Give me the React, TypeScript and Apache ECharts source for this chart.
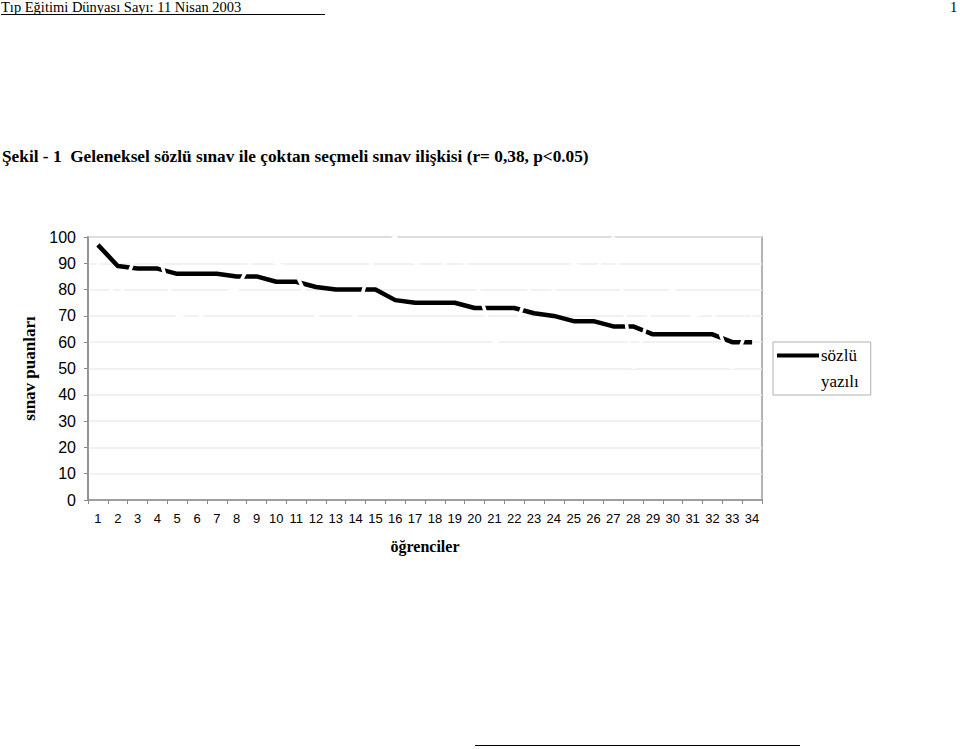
import React, { useEffect, useRef } from "react";
import * as echarts from "echarts";

const students = Array.from({ length: 34 }, (_, i) => String(i + 1));
const sozlu = [97, 89, 88, 88, 86, 86, 86, 85, 85, 83, 83, 81, 80, 80, 80, 76, 75, 75, 75, 73, 73, 73, 71, 70, 68, 68, 66, 66, 63, 63, 63, 63, 60, 60];
const yazili = [90, 75, 95, 95, 70, 68, 78, 80, 95, 90, 86, 70, 75, 70, 95, 100, 90, 85, 95, 85, 60, 65, 85, 80, 90, 85, 100, 50, 75, 80, 70, 72, 50, 70];
const yTicks = [0, 10, 20, 30, 40, 50, 60, 70, 80, 90, 100];

export default function App() {
  const ref = useRef<HTMLDivElement>(null);
  useEffect(() => {
    if (!ref.current) return;
    const chart = echarts.init(ref.current, null, { renderer: "svg" });
    const serif = "'Liberation Serif', 'Times New Roman', serif";
    const sans = "'Liberation Sans', Arial, sans-serif";
    chart.setOption({
      animation: false,
      backgroundColor: "#ffffff",
      grid: { left: 88, right: 198, top: 237, bottom: 249, show: true, borderColor: "#9a9a9a", borderWidth: 1.5, backgroundColor: "transparent" },
      xAxis: {
        type: "category",
        data: students,
        boundaryGap: true,
        axisLine: { show: true, lineStyle: { color: "#8a8a8a", width: 1.5 } },
        axisTick: { show: true, length: 4, lineStyle: { color: "#8a8a8a" } },
        axisLabel: { color: "#000", fontFamily: sans, fontSize: 13, margin: 12, interval: 0 },
        name: "öğrenciler",
        nameLocation: "middle",
        nameGap: 38,
        nameTextStyle: { fontFamily: serif, fontSize: 16, fontWeight: "bold", color: "#000" },
      },
      yAxis: {
        type: "value",
        min: yTicks[0],
        max: yTicks[yTicks.length - 1],
        interval: 10,
        axisLine: { show: true, lineStyle: { color: "#8a8a8a", width: 1.5 } },
        axisTick: { show: true, length: 4, inside: false, lineStyle: { color: "#8a8a8a" } },
        axisLabel: { color: "#000", fontFamily: sans, fontSize: 16, margin: 12 },
        splitLine: { show: true, lineStyle: { color: "#ececec", width: 1.5 } },
        name: "sınav puanları",
        nameLocation: "middle",
        nameGap: 50,
        nameRotate: 90,
        nameTextStyle: { fontFamily: serif, fontSize: 17, fontWeight: "bold", color: "#000" },
      },
      legend: {
        orient: "vertical",
        left: 773,
        top: 342,
        padding: [5, 12, 5, 4],
        itemGap: 9,
        itemWidth: 42,
        itemHeight: 4,
        borderColor: "#b0b0b0",
        borderWidth: 1,
        icon: "rect",
        textStyle: { fontFamily: serif, fontSize: 17, color: "#000", padding: [0, 0, 0, -3] },
        data: [
          { name: "sözlü", itemStyle: { color: "#000" } },
          { name: "yazılı", itemStyle: { color: "#ffffff" } },
        ],
      },
      series: [
        {
          name: "sözlü",
          type: "line",
          data: sozlu,
          showSymbol: false,
          symbol: "none",
          lineStyle: { color: "#000", width: 4.5, join: "round" },
          itemStyle: { color: "#000" },
          z: 3,
        },
        {
          name: "yazılı",
          type: "line",
          data: yazili,
          showSymbol: false,
          symbol: "none",
          lineStyle: { color: "#ffffff", width: 3.5 },
          itemStyle: { color: "#ffffff" },
          z: 4,
        },
      ],
      graphic: [
        { type: "text", left: 1, top: -1, style: { text: "Tıp Eğitimi Dünyası Sayı: 11 Nisan 2003", fontFamily: serif, fontSize: 14.5, fill: "#000" } },
        { type: "line", shape: { x1: 1, y1: 14.5, x2: 325, y2: 14.5 }, style: { stroke: "#000", lineWidth: 1 } },
        { type: "text", left: 950, top: -1, style: { text: "1", fontFamily: serif, fontSize: 14.5, fill: "#000" } },
        { type: "text", left: 2, top: 148, style: { text: "Şekil - 1  Geleneksel sözlü sınav ile çoktan seçmeli sınav ilişkisi (r= 0,38, p<0.05)", fontFamily: serif, fontSize: 17.3, fontWeight: "bold", fill: "#000" } },
        { type: "line", shape: { x1: 475, y1: 745.5, x2: 800, y2: 745.5 }, style: { stroke: "#000", lineWidth: 1 } },
      ],
    });
    return () => chart.dispose();
  }, []);
  return <div ref={ref} style={{ position: "fixed", left: 0, top: 0, width: 960, height: 749 }} />;
}
